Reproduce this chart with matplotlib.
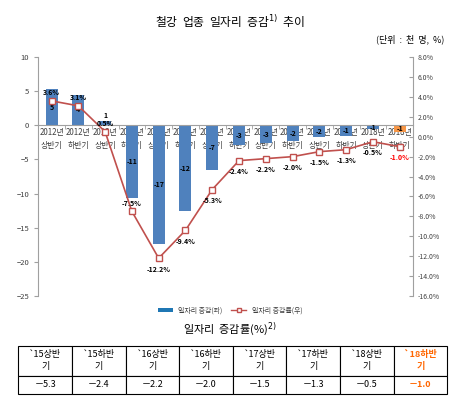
import numpy as np
import matplotlib.pyplot as plt

plt.rcParams['font.family'] = ['Noto Sans CJK KR', 'DejaVu Sans']

# x categories
periods = ['2012년\n상반기', '2012년\n하반기', '2013년\n상반기', '2013년\n하반기',
           '2014년\n상반기', '2014년\n하반기', '2015년\n상반기', '2015년\n하반기',
           '2016년\n상반기', '2016년\n하반기', '2017년\n상반기', '2017년\n하반기',
           '2018년\n상반기', '2018년\n하반기']
# job change (thousand persons)
jobs = [5.3, 4.5, 0.6, -10.7, -17.4, -12.5, -6.6, -2.9, -2.6, -2.3, -1.7, -1.5, -0.6, -1.0]
jobs_lbl = ['5', '4', '1', '-11', '-17', '-12', '-7', '-3', '-3', '-2', '-2', '-1', '-1', '-1']
# job change rate (%)
rate = [3.6, 3.1, 0.5, -7.5, -12.2, -9.4, -5.3, -2.4, -2.2, -2.0, -1.5, -1.3, -0.5, -1.0]

# table under the chart
tbl_head = ['`15상반\n기', '`15하반\n기', '`16상반\n기', '`16하반\n기',
            '`17상반\n기', '`17하반\n기', '`18상반\n기', '`18하반\n기']
tbl_vals = ['－5.3', '－2.4', '－2.2', '－2.0', '－1.5', '－1.3', '－0.5', '－1.0']

blue = '#4F81BD'
orange = '#F79646'
red = '#C0504D'

fig = plt.figure(figsize=(4.6, 3.99), dpi=100)
ax = fig.add_axes([0.083, 0.258, 0.815, 0.599])
x = np.arange(len(periods))
cols = [blue] * (len(jobs) - 1) + [orange]
bars = ax.bar(x, jobs, width=0.45, color=cols, zorder=2)
for i, b in enumerate(bars):
    h = b.get_height()
    if i == 2:
        ty = h + 0.9
    else:
        ty = h / 2
    ax.text(b.get_x() + b.get_width() / 2, ty, jobs_lbl[i], ha='center', va='center',
            fontsize=5, fontweight='bold', color='black', zorder=5)

ax.set_xlim(-0.5, len(periods) - 0.5)
ax.set_ylim(-25, 10)
ax.set_yticks(range(-25, 11, 5))
ax.spines['top'].set_visible(False)
ax.spines['right'].set_visible(False)
ax.spines['left'].set_color('#A0A0A0')
ax.spines['bottom'].set_position(('data', 0))
ax.spines['bottom'].set_color('#A0A0A0')
ax.set_xticks(x)
ax.set_xticklabels(periods, fontsize=5.7, color='#404040', linespacing=1.6)
ax.set_xticks(np.arange(-0.5, len(periods), 1), minor=True)
ax.tick_params(axis='x', which='major', length=0, pad=2)
ax.tick_params(axis='x', which='minor', length=3, color='#A0A0A0', direction='out')
ax.tick_params(axis='y', labelsize=5.5, labelcolor='#404040', length=3, color='#A0A0A0')

ax2 = ax.twinx()
ax2.set_ylim(-16, 8)
ax2.set_yticks(range(-16, 9, 2))
ax2.set_yticklabels(['%.1f%%' % v for v in range(-16, 9, 2)])
for s in ['top', 'left', 'bottom']:
    ax2.spines[s].set_visible(False)
ax2.spines['right'].set_color('#A0A0A0')
ax2.tick_params(axis='y', labelsize=5, labelcolor='#404040', length=3, color='#A0A0A0', direction='in')
ax2.plot(x, rate, color=red, lw=1.2, marker='s', ms=4, mfc='white', mec=red, mew=1, zorder=3)
for i, v in enumerate(rate):
    up = i < 4
    c = 'red' if i == len(rate) - 1 else 'black'
    ax2.annotate('%.1f%%' % v, (x[i], v), xytext=(0, 6 if up else -8), textcoords='offset points',
                 ha='center', va='center', fontsize=5, fontweight='bold', color=c)

h1 = ax.bar([], [], color=blue, label='일자리 증감(좌)')
h2, = ax.plot([], [], color=red, marker='s', mfc='white', mec=red, ms=3, lw=1, label='일자리 증감률(우)')
fig.legend(handles=[h1, h2], loc='center', bbox_to_anchor=(0.5, 0.222), ncol=2, frameon=False,
           fontsize=5, handlelength=2.2, columnspacing=1.2, labelcolor='#404040')

fig.text(0.5, 0.947, '철강  업종  일자리  증감$^{1)}$  추이', ha='center', va='center', fontsize=8.5)
fig.text(0.965, 0.902, '(단위  :  천  명,  %)', ha='right', va='center', fontsize=6.5)
fig.text(0.5, 0.175, '일자리  증감률(%)$^{2)}$', ha='center', va='center', fontsize=8)

tab = fig.add_axes([0.04, 0.012, 0.932, 0.122])
tab.axis('off')
t = tab.table(cellText=[tbl_head, tbl_vals], cellLoc='center', loc='center', bbox=[0, 0, 1, 1])
t.auto_set_font_size(False)
for (r, c), cell in t.get_celld().items():
    cell.set_linewidth(0.8)
    cell.set_height(0.62 if r == 0 else 0.38)
    txt = cell.get_text()
    txt.set_fontsize(6.5)
    txt.set_linespacing(1.5)
    if c == len(tbl_head) - 1:
        txt.set_color('#FF6600')
        txt.set_fontweight('bold')

fig.savefig('out.png', dpi=100)
